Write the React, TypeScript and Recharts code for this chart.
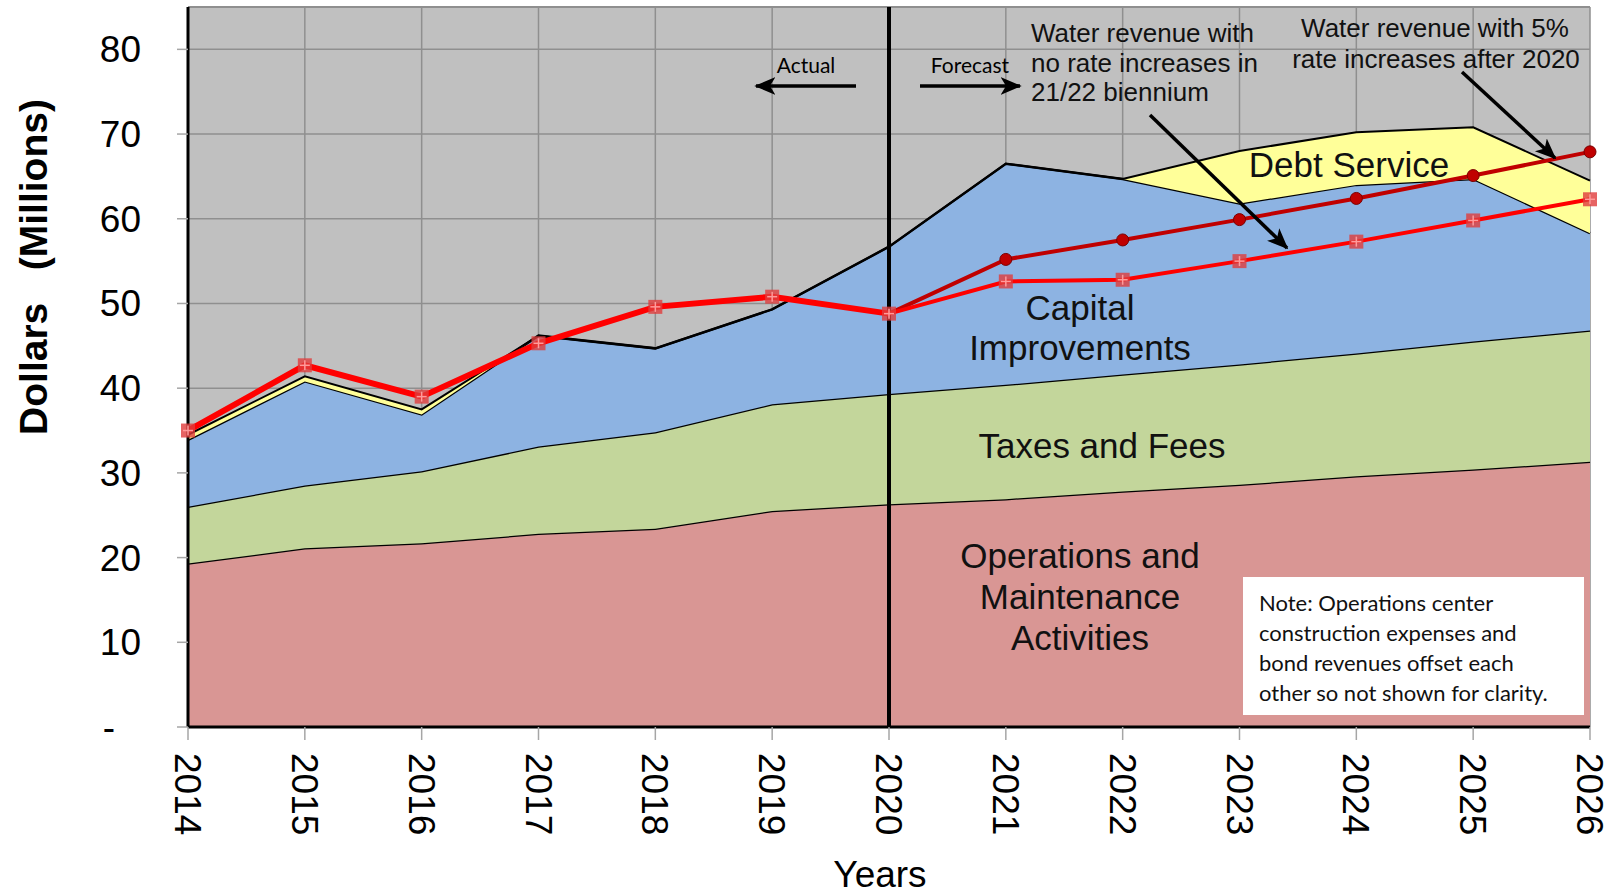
import {
  ComposedChart, Area, Line, XAxis, YAxis, CartesianGrid, ReferenceLine,
} from 'recharts'

const years = [2014, 2015, 2016, 2017, 2018, 2019, 2020, 2021, 2022, 2023, 2024, 2025, 2026]
const operations = [19.3, 21.1, 21.7, 22.8, 23.4, 25.5, 26.3, 26.9, 27.8, 28.6, 29.6, 30.4, 31.3]
const taxesFees = [6.7, 7.4, 8.5, 10.3, 11.4, 12.6, 13.0, 13.5, 13.8, 14.2, 14.5, 15.1, 15.5]
const capital = [7.9, 12.3, 6.7, 13.1, 9.9, 11.2, 17.4, 26.1, 23.1, 19.0, 19.9, 19.2, 11.5]
const debtService = [0.6, 0.6, 0.6, 0, 0, 0, 0, 0, 0, 6.2, 6.2, 6.1, 6.2]
const revenueNoIncrease = [35.0, 42.7, 39.0, 45.3, 49.6, 50.8, 48.8, 52.6, 52.8, 55.0, 57.3, 59.8, 62.3]
const revenueFivePct = [null, null, null, null, null, null, 48.8, 55.2, 57.5, 59.9, 62.4, 65.1, 67.9]
const yTicks = [0, 10, 20, 30, 40, 50, 60, 70, 80]
const FORECAST_YEAR = 2020

const data = years.map((year, i) => ({
  year,
  operations: operations[i],
  taxesFees: taxesFees[i],
  capital: capital[i],
  debtService: debtService[i],
  actual: year <= FORECAST_YEAR ? revenueNoIncrease[i] : null,
  noIncrease: year >= FORECAST_YEAR ? revenueNoIncrease[i] : null,
  fivePct: revenueFivePct[i],
}))

const ARIAL = '"Liberation Sans", Arial, sans-serif'
const CALIBRI = 'Lato, "Open Sans", sans-serif'

function SquareDot(props: any) {
  const { cx, cy, value, payload, skipYear } = props
  if (value == null || cx == null || payload.year === skipYear) return <g />
  return (
    <g>
      <rect x={cx - 7} y={cy - 7} width={14} height={14} fill="#e03c3c" fillOpacity={0.8} />
      <line x1={cx - 5} x2={cx + 5} y1={cy} y2={cy} stroke="#ff9a9a" strokeWidth={1.5} />
      <line x1={cx} x2={cx} y1={cy - 5} y2={cy + 5} stroke="#ff9a9a" strokeWidth={1.5} />
    </g>
  )
}

function CircleDot(props: any) {
  const { cx, cy, value, payload } = props
  if (value == null || cx == null || payload.year <= FORECAST_YEAR) return <g />
  return <circle cx={cx} cy={cy} r={6} fill="#c00000" stroke="#7a0000" strokeWidth={1} />
}

function YearTick({ x, y, payload }: any) {
  return (
    <g transform={`translate(${x - 13},${y + 11})`}>
      <text transform="rotate(90)" textAnchor="start" fontSize={37} fontFamily={ARIAL} fill="#000">
        {payload.value}
      </text>
    </g>
  )
}

function DollarTick({ x, y, payload }: any) {
  const zero = payload.value === 0
  return (
    <text x={zero ? x - 26 : x} y={y} dy={13} textAnchor="end" fontSize={37} fontFamily={ARIAL} fill="#000">
      {zero ? '-' : payload.value}
    </text>
  )
}

function Annotations() {
  const label = { fontFamily: ARIAL, fill: '#111', dominantBaseline: 'central' as const }
  return (
    <svg width={1608} height={894} style={{ position: 'absolute', left: 0, top: 0, pointerEvents: 'none' }}>
      <defs>
        <marker id="head" viewBox="0 0 12 10" refX={11} refY={5} markerWidth={6} markerHeight={6} orient="auto">
          <path d="M0,0 L12,5 L0,10 L3,5 z" fill="#000" />
        </marker>
      </defs>

      <text x={33} y={267} transform="rotate(-90, 33, 267)" textAnchor="middle" dominantBaseline="central"
        fontSize={39} fontWeight="bold" fontFamily={ARIAL} style={{ whiteSpace: 'pre' }}>
        {'Dollars   (Millions)'}
      </text>
      <text x={880} y={887} textAnchor="middle" fontSize={37} fontFamily={ARIAL}>Years</text>

      <text x={806} y={64} textAnchor="middle" fontSize={21} fontFamily={CALIBRI} dominantBaseline="central">Actual</text>
      <line x1={856} y1={86} x2={756} y2={86} stroke="#000" strokeWidth={3.5} markerEnd="url(#head)" />
      <text x={970} y={64} textAnchor="middle" fontSize={21} fontFamily={CALIBRI} dominantBaseline="central">Forecast</text>
      <line x1={920} y1={86} x2={1020} y2={86} stroke="#000" strokeWidth={3.5} markerEnd="url(#head)" />

      <text x={1031} y={33} fontSize={26} {...label}>Water revenue with</text>
      <text x={1031} y={62.5} fontSize={26} {...label}>no rate increases in</text>
      <text x={1031} y={92} fontSize={26} {...label}>21/22 biennium</text>
      <line x1={1150} y1={115} x2={1287} y2={248} stroke="#000" strokeWidth={3.5} markerEnd="url(#head)" />

      <text x={1435} y={28} fontSize={26} textAnchor="middle" {...label}>Water revenue with 5%</text>
      <text x={1436} y={58.5} fontSize={26} textAnchor="middle" {...label}>rate increases after 2020</text>
      <line x1={1462} y1={72} x2={1555} y2={158} stroke="#000" strokeWidth={3.5} markerEnd="url(#head)" />

      <text x={1349} y={164} fontSize={35} textAnchor="middle" {...label}>Debt Service</text>
      <text x={1080} y={307} fontSize={35} textAnchor="middle" {...label}>Capital</text>
      <text x={1080} y={347} fontSize={35} textAnchor="middle" {...label}>Improvements</text>
      <text x={1102} y={445} fontSize={35} textAnchor="middle" {...label}>Taxes and Fees</text>
      <text x={1080} y={555} fontSize={35} textAnchor="middle" {...label}>Operations and</text>
      <text x={1080} y={596} fontSize={35} textAnchor="middle" {...label}>Maintenance</text>
      <text x={1080} y={637} fontSize={35} textAnchor="middle" {...label}>Activities</text>

      <rect x={1243} y={577} width={341} height={138} fill="#fff" />
      {['Note: Operations center', 'construction expenses and', 'bond revenues offset each', 'other so not shown for clarity.'].map((t, i) => (
        <text key={t} x={1259} y={602 + i * 30} fontSize={22} fontFamily={CALIBRI} fill="#111" dominantBaseline="central">{t}</text>
      ))}
    </svg>
  )
}

export default function App() {
  return (
    <div style={{ position: 'absolute', left: 0, top: 0, width: 1608, height: 894, background: '#fff' }}>
      <ComposedChart width={1608} height={894} data={data} margin={{ top: 7, right: 18, left: 0, bottom: 0 }}>
        <CartesianGrid stroke="#8f8f8f" strokeWidth={1.5} fill="#c0c0c0" fillOpacity={1} />
        <XAxis
          dataKey="year" type="number" domain={[2014, 2026]} ticks={years} interval={0}
          height={167} tickSize={13} tick={<YearTick />}
          axisLine={{ stroke: '#000', strokeWidth: 3 }} tickLine={{ stroke: '#a6a6a6', strokeWidth: 1.5 }}
        />
        <YAxis
          type="number" domain={[0, 85]} ticks={yTicks} interval={0} allowDataOverflow
          width={188} tickSize={11} tickMargin={36} tick={<DollarTick />}
          axisLine={{ stroke: '#000', strokeWidth: 3 }} tickLine={{ stroke: '#a6a6a6', strokeWidth: 1.5 }}
        />
        <ReferenceLine y={85} stroke="#8f8f8f" strokeWidth={2} />
        <Area type="linear" dataKey="operations" stackId="s" stroke="#000" strokeWidth={2.5} fill="#d99694" fillOpacity={1} dot={false} activeDot={false} isAnimationActive={false} />
        <Area type="linear" dataKey="taxesFees" stackId="s" stroke="#000" strokeWidth={2.5} fill="#c3d69b" fillOpacity={1} dot={false} activeDot={false} isAnimationActive={false} />
        <Area type="linear" dataKey="capital" stackId="s" stroke="#000" strokeWidth={2.5} fill="#8db3e2" fillOpacity={1} dot={false} activeDot={false} isAnimationActive={false} />
        <Area type="linear" dataKey="debtService" stackId="s" stroke="#000" strokeWidth={2} fill="#ffff99" fillOpacity={1} dot={false} activeDot={false} isAnimationActive={false} />
        <ReferenceLine x={FORECAST_YEAR} stroke="#000" strokeWidth={4} />
        <Line type="linear" dataKey="fivePct" stroke="#c00000" strokeWidth={4} dot={<CircleDot />} activeDot={false} isAnimationActive={false} />
        <Line type="linear" dataKey="noIncrease" stroke="#ff0000" strokeWidth={4} dot={<SquareDot skipYear={FORECAST_YEAR} />} activeDot={false} isAnimationActive={false} />
        <Line type="linear" dataKey="actual" stroke="#ff0000" strokeWidth={6} dot={<SquareDot />} activeDot={false} isAnimationActive={false} />
      </ComposedChart>
      <Annotations />
    </div>
  )
}
